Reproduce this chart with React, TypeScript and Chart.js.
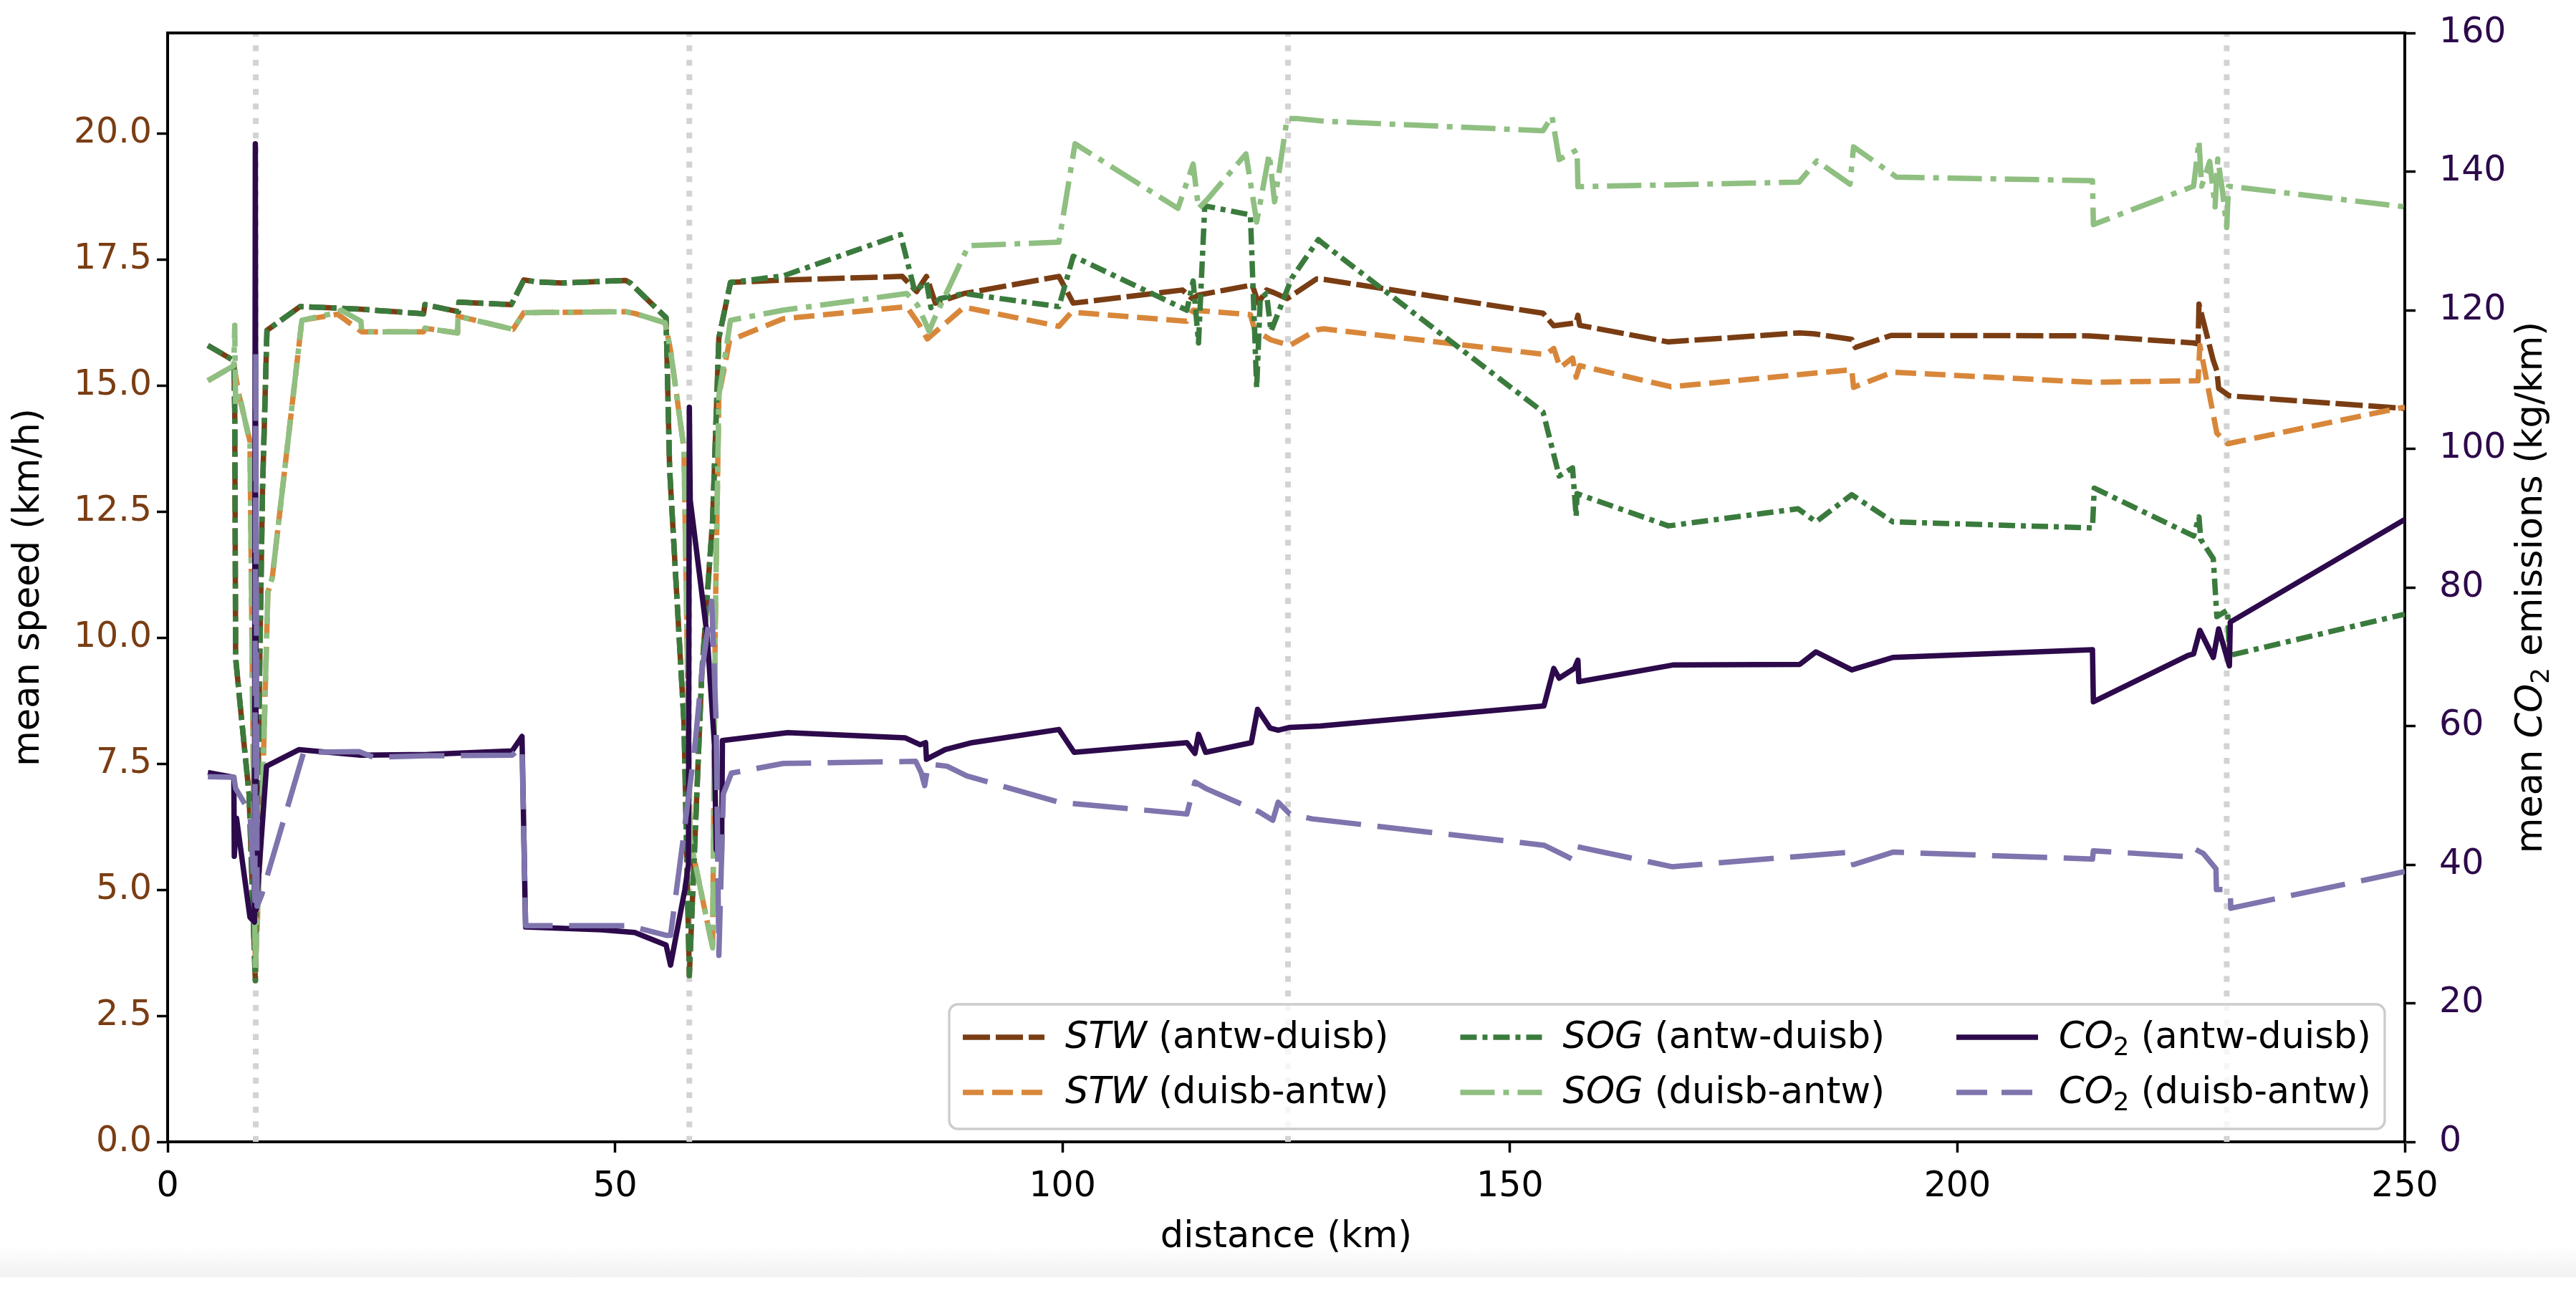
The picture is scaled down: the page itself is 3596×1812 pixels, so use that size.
import React, { useEffect, useRef } from "react";
import { Chart, registerables } from "chart.js";

Chart.register(...registerables);

type Pt = [number, number];

// ---------- data: [distance km, value] ----------
const stwAntwDuisb: Pt[] = [
  [4.5, 15.8], [7.4, 15.5], [7.5, 14.5], [7.6, 9.6], [8.2, 8.5], [9.1, 6.9], [9.8, 3.2], [10.3, 9.6], [10.6, 12.9], [11.1, 16.1],
  [14.8, 16.57], [19.2, 16.54], [21.4, 16.52], [28.6, 16.43], [28.75, 16.61], [32.5, 16.47], [32.55, 16.66], [38.4, 16.61], [38.6, 16.68],
  [39.8, 17.1], [41.3, 17.06], [44, 17.04], [51.2, 17.09], [51.7, 17.04], [55.7, 16.35], [56.1, 13.34], [57.7, 8.32], [58.3, 3.3],
  [59.7, 9.32], [60.9, 12.33], [61.6, 15.95], [62.9, 17.05], [69.3, 17.1], [82.1, 17.17], [83.7, 16.87], [84.8, 17.17], [85.8, 16.64],
  [89, 16.83], [99.6, 17.17], [101.2, 16.64], [113.4, 16.9], [114.5, 16.73], [115.2, 16.8], [121.2, 17.0], [121.9, 16.64], [122.8, 16.9],
  [123.6, 16.85], [125.1, 16.73], [128.4, 17.12], [129.2, 17.11], [153.7, 16.44], [154.9, 16.19], [157.4, 16.25], [157.6, 16.4],
  [157.8, 16.2], [167.7, 15.87], [182.4, 16.05], [184.0, 16.03], [188.2, 15.92], [188.6, 15.76], [192.6, 16.0], [214.8, 15.99],
  [226.4, 15.85], [226.9, 15.83], [227.0, 16.62], [228.6, 15.5], [229.0, 15.3], [229.2, 14.95], [230.4, 14.8], [250, 14.55],
];

const stwDuisbAntw: Pt[] = [
  [4.5, 15.1], [7.4, 15.4], [8.0, 14.8], [9.2, 13.9], [9.8, 3.4], [10.6, 6.9], [11.2, 10.9], [11.7, 11.2], [15.0, 16.3], [19.0, 16.42],
  [21.7, 16.07], [28.6, 16.07], [28.75, 16.14], [32.4, 16.05], [32.45, 16.38], [38.6, 16.12], [39.8, 16.45], [51.2, 16.47], [52.3, 16.43],
  [55.6, 16.25], [56.2, 15.7], [57.7, 13.75], [58.4, 6.0], [60.9, 3.85], [61.2, 10.3], [61.6, 14.8], [62.8, 15.9], [68.8, 16.33],
  [82.6, 16.57], [84.0, 16.21], [84.9, 15.93], [89, 16.56], [99.6, 16.18], [101.0, 16.46], [113.9, 16.28], [114.6, 16.5], [121.0, 16.41],
  [121.5, 16.1], [123.3, 15.91], [125.4, 15.8], [128.4, 16.11], [129.2, 16.13], [154.0, 15.62], [154.9, 15.74], [155.6, 15.36],
  [157.0, 15.55], [157.4, 15.17], [157.8, 15.4], [168.0, 14.98], [188.2, 15.32], [188.4, 14.97], [192.8, 15.27], [214.8, 15.07],
  [226.9, 15.1], [227.1, 15.8], [229.0, 14.06], [230.2, 13.85], [250, 14.58],
];

const sogAntwDuisb: Pt[] = [
  [4.5, 15.8], [7.4, 15.5], [7.5, 14.5], [7.6, 9.6], [8.2, 8.5], [9.1, 6.9], [9.8, 3.2], [10.3, 9.6], [10.6, 12.9], [11.1, 16.1],
  [14.8, 16.57], [19.2, 16.54], [21.4, 16.52], [28.6, 16.43], [28.75, 16.61], [32.5, 16.47], [32.55, 16.66], [38.4, 16.61], [38.6, 16.68],
  [39.8, 17.1], [41.3, 17.06], [44, 17.04], [51.2, 17.09], [51.7, 17.04], [55.7, 16.35], [56.1, 13.34], [57.7, 8.32], [58.3, 3.3],
  [59.7, 9.32], [60.9, 12.33], [61.6, 15.95], [62.9, 17.05], [68.8, 17.18], [81.9, 18.0], [83.5, 16.87], [84.8, 17.06], [85.3, 16.55],
  [86.3, 16.73], [89, 16.83], [99.6, 16.57], [101.2, 17.57], [113.9, 16.5], [114.6, 17.08], [115.2, 15.85], [115.9, 18.57], [121, 18.39],
  [121.7, 14.96], [122.1, 16.73], [122.8, 16.83], [123.3, 16.08], [125.6, 17.13], [128.6, 17.9], [129.2, 17.81], [153.7, 14.48],
  [155.5, 13.21], [157.0, 13.37], [157.4, 12.41], [157.5, 12.86], [167.7, 12.22], [182.2, 12.56], [184.2, 12.3], [188.2, 12.84],
  [192.8, 12.3], [215.1, 12.18], [215.3, 12.97], [226.4, 12.02], [227.0, 12.4], [227.2, 11.95], [228.6, 11.57], [229.0, 10.42],
  [230.2, 10.55], [230.4, 9.65], [250, 10.47],
];

const sogDuisbAntw: Pt[] = [
  [4.5, 15.1], [7.4, 15.4], [7.5, 16.2], [7.6, 14.6], [8.0, 14.85], [9.2, 13.85], [9.8, 3.4], [10.6, 6.9], [11.2, 10.9], [11.7, 11.2],
  [15.0, 16.3], [18.9, 16.45], [19.4, 16.5], [21.6, 16.28], [21.7, 16.07], [28.6, 16.07], [28.75, 16.14], [32.4, 16.05], [32.45, 16.38],
  [38.6, 16.12], [39.8, 16.45], [51.2, 16.47], [52.3, 16.43], [55.6, 16.25], [56.2, 15.7], [57.7, 13.75], [58.4, 6.0], [60.9, 3.85],
  [61.2, 10.3], [61.6, 14.8], [62.9, 16.3], [68.8, 16.5], [82.6, 16.83], [83.8, 16.6], [85.1, 16.08], [85.6, 16.3], [89.5, 17.78],
  [99.6, 17.85], [101.4, 19.8], [112.9, 18.52], [114.6, 19.4], [115.2, 18.52], [116.2, 18.7], [120.5, 19.6], [121.7, 18.25], [123.1, 19.6],
  [123.7, 18.65], [125.1, 20.3], [126.3, 20.3], [129.2, 20.25], [153.7, 20.06], [154.7, 20.35], [155.5, 19.49], [157.5, 19.68],
  [157.6, 18.95], [182.3, 19.04], [184.3, 19.46], [188.0, 19.0], [188.4, 19.74], [193.2, 19.14], [215.1, 19.07], [215.2, 18.2],
  [226.4, 18.96], [227.0, 19.86], [227.3, 18.96], [228.2, 19.45], [228.8, 18.55], [229.1, 19.5], [229.6, 18.9], [230.1, 18.14],
  [230.3, 18.96], [250, 18.55],
];

const co2AntwDuisb: Pt[] = [
  [4.5, 53.3], [7.4, 52.6], [7.45, 41.2], [7.7, 46.7], [9.2, 32.4], [9.7, 31.7], [9.8, 144], [9.9, 33.5], [11.05, 54.2], [14.7, 56.6],
  [21.4, 55.8], [29, 55.9], [38.5, 56.4], [39.6, 58.5], [40.0, 31.0], [48.5, 30.6], [52.2, 30.2], [55.7, 28.4], [56.2, 25.5],
  [57.8, 36.4], [58.2, 40], [58.3, 106], [58.4, 92.6], [60.3, 72.9], [61.1, 57.5], [61.3, 42.2], [61.9, 40.7], [62.0, 57.9],
  [69.3, 59.05], [82.4, 58.3], [84.1, 57.3], [84.7, 57.6], [84.8, 55.2], [86.9, 56.6], [89.9, 57.6], [99.6, 59.5], [101.3, 56.2],
  [113.9, 57.6], [114.8, 56.05], [115.2, 58.8], [116.0, 56.2], [121.1, 57.6], [121.8, 62.4], [123.2, 59.7], [124.1, 59.4],
  [125.4, 59.8], [128.8, 60.0], [153.8, 62.9], [154.9, 68.3], [155.5, 66.9], [157.2, 68.3], [157.6, 69.5], [157.7, 66.4],
  [168.2, 68.8], [182.4, 68.9], [184.2, 70.7], [188.2, 68.1], [192.8, 69.9], [215.1, 71.0], [215.2, 63.5], [225.8, 70.2],
  [226.4, 70.4], [227.1, 73.8], [228.6, 69.9], [229.2, 74.0], [230.4, 68.7], [230.5, 75.0], [250, 89.8],
];

const co2DuisbAntw: Pt[] = [
  [4.5, 52.7], [7.4, 52.6], [7.6, 51.0], [9.2, 47.5], [9.75, 34.8], [9.85, 114], [10.0, 34], [10.5, 35.6], [15.2, 56.2], [21.4, 56.3],
  [23, 55.5], [29, 55.7], [38.5, 55.8], [39.6, 57.0], [40.0, 31.2], [51.5, 31.2], [55.7, 29.8], [56.2, 29.8], [56.8, 35.7],
  [57.6, 43.6], [58.9, 56.8], [59.7, 67.8], [60.8, 78], [61.3, 60.5], [61.6, 26.9], [62.1, 50.2], [63, 53.2], [68.8, 54.6],
  [83.6, 54.9], [84.2, 53.3], [84.6, 51.4], [85, 54.5], [87.1, 54.2], [89.3, 52.8], [99.6, 49.0], [113.9, 47.3], [114.8, 51.9],
  [116, 51.0], [122.0, 47.6], [123.5, 46.4], [124.1, 49.0], [125.4, 47.3], [127.9, 46.6], [153.8, 42.8], [155.4, 41.8],
  [157.1, 40.7], [157.5, 42.6], [168.1, 39.7], [182.4, 41.2], [188.2, 41.8], [188.4, 40.0], [192.8, 41.8], [215.1, 40.8],
  [215.2, 42.0], [225.2, 41.2], [226.3, 42.4], [227.5, 41.6], [228.9, 39.4], [228.95, 36.4], [230.5, 36.4], [230.55, 33.7], [250, 39.0],
];

const xTickValues = [0, 50, 100, 150, 200, 250];
const speedTickValues = [0, 2.5, 5, 7.5, 10, 12.5, 15, 17.5, 20];
const co2TickValues = [0, 20, 40, 60, 80, 100, 120, 140, 160];
const markerKm = [9.85, 58.3, 125.2, 230.1];

type Part = { t: string; it?: boolean; sub?: boolean };
const legendStwAntw: Part[] = [{ t: "STW", it: true }, { t: " (antw-duisb)" }];
const legendStwDuisb: Part[] = [{ t: "STW", it: true }, { t: " (duisb-antw)" }];
const legendSogAntw: Part[] = [{ t: "SOG", it: true }, { t: " (antw-duisb)" }];
const legendSogDuisb: Part[] = [{ t: "SOG", it: true }, { t: " (duisb-antw)" }];
const legendCo2Antw: Part[] = [{ t: "CO", it: true }, { t: "2", sub: true }, { t: " (antw-duisb)" }];
const legendCo2Duisb: Part[] = [{ t: "CO", it: true }, { t: "2", sub: true }, { t: " (duisb-antw)" }];

const xTitle: Part[] = [{ t: "distance (km)" }];
const leftTitle: Part[] = [{ t: "mean speed (km/h)" }];
const rightTitle: Part[] = [{ t: "mean " }, { t: "CO", it: true }, { t: "2", sub: true }, { t: " emissions (kg/km)" }];

// ---------- styles ----------
const FAMILY = '"DejaVu Sans"';
const FS = 49;
const TFS = 51;
const LW = 7.5;
const BROWN = "#7a3d13";
const ORANGE = "#d8873a";
const DKGREEN = "#3a7b3d";
const LTGREEN = "#8fbf81";
const DKPURPLE = "#2d0a4b";
const LTPURPLE = "#7f74ad";

function fontOf(p: Part, size: number) {
  return `${p.it ? "italic " : ""}${p.sub ? size * 0.7 : size}px ${FAMILY}`;
}
function widthOf(ctx: CanvasRenderingContext2D, parts: Part[], size: number) {
  let w = 0;
  for (const p of parts) {
    ctx.font = fontOf(p, size);
    w += ctx.measureText(p.t).width;
  }
  return w;
}
function drawParts(ctx: CanvasRenderingContext2D, parts: Part[], x: number, y: number, size: number) {
  let cx = x;
  ctx.textAlign = "left";
  ctx.textBaseline = "alphabetic";
  for (const p of parts) {
    ctx.font = fontOf(p, size);
    ctx.fillText(p.t, cx, p.sub ? y + size * 0.2 : y);
    cx += ctx.measureText(p.t).width;
  }
}

const decorPlugin = {
  id: "decor",
  beforeDatasetsDraw(chart: any) {
    const { ctx, chartArea } = chart;
    const xs = chart.scales.x;
    ctx.save();
    ctx.strokeStyle = "#d3d3d3";
    ctx.lineWidth = 8;
    ctx.setLineDash([8.3, 12]);
    for (const km of markerKm) {
      const px = xs.getPixelForValue(km);
      ctx.beginPath();
      ctx.moveTo(px, chartArea.bottom);
      ctx.lineTo(px, chartArea.top);
      ctx.stroke();
    }
    ctx.restore();
  },
  afterDatasetsDraw(chart: any) {
    const { ctx, chartArea } = chart;
    ctx.save();
    // top spine
    ctx.strokeStyle = "#000";
    ctx.lineWidth = 4;
    ctx.setLineDash([]);
    ctx.beginPath();
    ctx.moveTo(chartArea.left - 2, chartArea.top);
    ctx.lineTo(chartArea.right + 2, chartArea.top);
    ctx.stroke();

    // legend (3 columns x 2 rows)
    const ds = chart.data.datasets as any[];
    const cols: any[][] = [[], [], []];
    ds.forEach((d) => {
      if (d.legendCol !== undefined) cols[d.legendCol][d.legendRow] = d;
    });
    const pad = 19, handleLen = 114, handlePad = 29, colSpace = 100;
    const colW = cols.map((c) => Math.max(...c.map((d) => widthOf(ctx, d.legendParts, TFS))));
    let total = pad * 2 + colSpace * 2;
    colW.forEach((w) => (total += handleLen + handlePad + w));
    const boxRight = chartArea.right - 28;
    const boxBottom = chartArea.bottom - 18;
    const boxH = 174;
    const boxLeft = boxRight - total;
    const boxTop = boxBottom - boxH;
    ctx.beginPath();
    (ctx as any).roundRect(boxLeft, boxTop, total, boxH, 12);
    ctx.fillStyle = "rgba(255,255,255,0.8)";
    ctx.fill();
    ctx.strokeStyle = "#cccccc";
    ctx.lineWidth = 3.3;
    ctx.stroke();
    let cx = boxLeft + pad;
    cols.forEach((c, ci) => {
      c.forEach((d, ri) => {
        const base = boxTop + 61 + ri * 77;
        const hy = base - 15;
        ctx.strokeStyle = d.borderColor;
        ctx.lineWidth = LW;
        ctx.lineCap = "butt";
        ctx.setLineDash(d.legendDash || []);
        ctx.beginPath();
        ctx.moveTo(cx, hy);
        ctx.lineTo(cx + handleLen, hy);
        ctx.stroke();
        ctx.setLineDash([]);
        ctx.fillStyle = "#000";
        drawParts(ctx, d.legendParts, cx + handleLen + handlePad, base, TFS);
      });
      cx += handleLen + handlePad + colW[ci] + colSpace;
    });
    ctx.restore();
  },
  afterDraw(chart: any) {
    const { ctx, chartArea } = chart;
    const midY = (chartArea.top + chartArea.bottom) / 2;
    ctx.save();
    ctx.fillStyle = "#000";
    // x title
    const xw = widthOf(ctx, xTitle, TFS);
    drawParts(ctx, xTitle, (chartArea.left + chartArea.right) / 2 - xw / 2, chartArea.bottom + 147, TFS);
    // left title
    ctx.save();
    ctx.translate(chartArea.left - 180, midY);
    ctx.rotate(-Math.PI / 2);
    const lw = widthOf(ctx, leftTitle, TFS);
    drawParts(ctx, leftTitle, -lw / 2, 0, TFS);
    ctx.restore();
    // right title
    ctx.save();
    ctx.translate(chartArea.right + 191, midY);
    ctx.rotate(-Math.PI / 2);
    const rw = widthOf(ctx, rightTitle, TFS);
    drawParts(ctx, rightTitle, -rw / 2, 0, TFS);
    ctx.restore();
    ctx.restore();
  },
};

function makeDataset(label: string, pts: Pt[], color: string, dash: number[], axis: string, order: number,
  parts: Part[], col: number, row: number, legendDash?: number[]) {
  return {
    label,
    data: pts.map(([x, y]) => ({ x, y })),
    borderColor: color,
    backgroundColor: color,
    borderWidth: LW,
    borderDash: dash,
    borderCapStyle: "butt",
    borderJoinStyle: "round",
    pointRadius: 0,
    pointHoverRadius: 0,
    tension: 0,
    fill: false,
    yAxisID: axis,
    order,
    legendParts: parts,
    legendCol: col,
    legendRow: row,
    legendDash: legendDash || dash,
  };
}

export default function App() {
  const ref = useRef<HTMLCanvasElement | null>(null);
  useEffect(() => {
    document.body.style.margin = "0";
    document.body.style.overflow = "hidden";
    if (!ref.current) return;
    Chart.defaults.font.family = FAMILY;
    const tickFont = { family: FAMILY, size: FS };
    const chart = new Chart(ref.current, {
      type: "line",
      data: {
        datasets: [
          makeDataset("STW (antw-duisb)", stwAntwDuisb, BROWN, [38, 8], "y", 5, legendStwAntw, 0, 0),
          makeDataset("STW (duisb-antw)", stwDuisbAntw, ORANGE, [29, 12], "y", 4, legendStwDuisb, 0, 1),
          makeDataset("SOG (antw-duisb)", sogAntwDuisb, DKGREEN, [23, 8, 7, 8], "y", 3, legendSogAntw, 1, 0),
          makeDataset("SOG (duisb-antw)", sogDuisbAntw, LTGREEN, [48, 12, 8, 12], "y", 2, legendSogDuisb, 1, 1),
          makeDataset("CO2 (antw-duisb)", co2AntwDuisb, DKPURPLE, [], "y1", 1, legendCo2Antw, 2, 0),
          makeDataset("CO2 (duisb-antw)", co2DuisbAntw, LTPURPLE, [77, 23], "y1", 0, legendCo2Duisb, 2, 1, [43, 20]),
        ] as any,
      },
      options: {
        animation: false,
        responsive: false,
        devicePixelRatio: 1,
        layout: { padding: { top: 46, left: 0, right: 0, bottom: 0 } },
        plugins: { legend: { display: false }, tooltip: { enabled: false } },
        events: [],
        scales: {
          x: {
            type: "linear",
            min: 0,
            max: 250,
            afterBuildTicks: (s: any) => { s.ticks = xTickValues.map((v) => ({ value: v })); },
            afterFit: (s: any) => { s.height = 218; s.paddingLeft = 0; s.paddingRight = 0; },
            ticks: { font: tickFont, color: "#000", padding: 19, maxRotation: 0, autoSkip: false },
            grid: { display: true, drawOnChartArea: false, drawTicks: true, tickLength: 15, tickWidth: 3.5, tickColor: "#000" },
            border: { display: true, color: "#000", width: 4 },
          },
          y: {
            type: "linear",
            position: "left",
            min: 0,
            max: 22,
            afterBuildTicks: (s: any) => { s.ticks = speedTickValues.map((v) => ({ value: v })); },
            afterFit: (s: any) => { s.width = 234; s.paddingTop = 0; s.paddingBottom = 0; },
            ticks: { font: tickFont, color: BROWN, padding: 7, callback: (v: any) => Number(v).toFixed(1) },
            grid: { display: true, drawOnChartArea: false, drawTicks: true, tickLength: 15, tickWidth: 3.5, tickColor: "#000" },
            border: { display: true, color: "#000", width: 4 },
          },
          y1: {
            type: "linear",
            position: "right",
            min: 0,
            max: 160,
            afterBuildTicks: (s: any) => { s.ticks = co2TickValues.map((v) => ({ value: v })); },
            afterFit: (s: any) => { s.width = 239; s.paddingTop = 0; s.paddingBottom = 0; },
            ticks: { font: tickFont, color: DKPURPLE, padding: 33, callback: (v: any) => String(v) },
            grid: { display: true, drawOnChartArea: false, drawTicks: true, tickLength: 15, tickWidth: 3.5, tickColor: "#000" },
            border: { display: true, color: "#000", width: 4 },
          },
        },
      } as any,
      plugins: [decorPlugin as any],
    });
    return () => chart.destroy();
  }, []);

  return (
    <div style={{ position: "relative", width: 3596, height: 1812, overflow: "hidden", background: "#ffffff" }}>
      <div
        style={{
          position: "absolute",
          left: 0,
          top: 1740,
          width: 3596,
          height: 43,
          background: "linear-gradient(#ffffff, #f1f1f1)",
        }}
      />
      <canvas
        ref={ref}
        width={3596}
        height={1812}
        style={{ position: "absolute", left: 0, top: 0, width: 3596, height: 1812 }}
      />
    </div>
  );
}
